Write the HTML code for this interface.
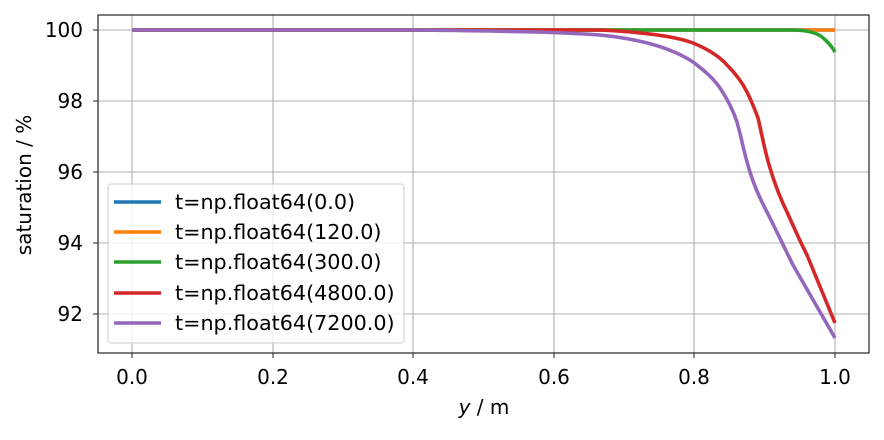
<!DOCTYPE html><html><head><style>body{margin:0;background:#fff}</style></head><body>
<svg width="884" height="435" xmlns="http://www.w3.org/2000/svg" font-family="DejaVu Sans, Liberation Sans, sans-serif">
<rect width="884" height="435" fill="#fff"/>
<g stroke="#b0b0b0" stroke-width="1.1">
<line x1="132" y1="15" x2="132" y2="353"/><line x1="273" y1="15" x2="273" y2="353"/><line x1="413" y1="15" x2="413" y2="353"/><line x1="554" y1="15" x2="554" y2="353"/><line x1="694" y1="15" x2="694" y2="353"/><line x1="835" y1="15" x2="835" y2="353"/>
<line x1="98" y1="30" x2="869" y2="30"/><line x1="98" y1="101" x2="869" y2="101"/><line x1="98" y1="172" x2="869" y2="172"/><line x1="98" y1="243" x2="869" y2="243"/><line x1="98" y1="314" x2="869" y2="314"/>
</g>
<g fill="none" stroke-width="3.6" stroke-linejoin="round">
<path d="M132 30H835" stroke="#1f77b4"/>
<path d="M132 30H835" stroke="#ff7f0e"/>
<path d="M132 30H790C808 30 817 33 822 37C827 41 831 45 835 52" stroke="#2ca02c"/>
<path d="M132 30L483 30C540 30 580 30 600 30C640 32 675 36 693 43C710 50 720 57 727 65C737 75 743 84 747 92C752 102 755 110 758 118C762 135 765 152 770 168C776 188 781 200 787 212C795 230 800 241 807 255L835 323" stroke="#d62728"/>
<path d="M132 30L413 30C500 31 560 32 600 35C640 39 672 48 693 62C705 71 713 78 720 88C728 100 733 110 737 122C742 140 745 157 750 172C755 188 760 199 767 212C777 232 785 249 793 265L835 338" stroke="#9467bd"/>
</g>
<rect x="98" y="15" width="771" height="338" fill="none" stroke="#222" stroke-width="1.2"/>
<g stroke="#222"><line x1="132" y1="353" x2="132" y2="358"/><line x1="273" y1="353" x2="273" y2="358"/><line x1="413" y1="353" x2="413" y2="358"/><line x1="554" y1="353" x2="554" y2="358"/><line x1="694" y1="353" x2="694" y2="358"/><line x1="835" y1="353" x2="835" y2="358"/>
<line x1="93" y1="30" x2="98" y2="30"/><line x1="93" y1="101" x2="98" y2="101"/><line x1="93" y1="172" x2="98" y2="172"/><line x1="93" y1="243" x2="98" y2="243"/><line x1="93" y1="314" x2="98" y2="314"/></g>
<g font-size="20" text-anchor="middle"><text x="132" y="384">0.0</text><text x="273" y="384">0.2</text><text x="413" y="384">0.4</text><text x="554" y="384">0.6</text><text x="694" y="384">0.8</text><text x="835" y="384">1.0</text></g>
<g font-size="20" text-anchor="end"><text x="83" y="37">100</text><text x="83" y="108">98</text><text x="83" y="179">96</text><text x="83" y="250">94</text><text x="83" y="321">92</text></g>
<text x="484" y="414" font-size="20" text-anchor="middle"><tspan font-style="italic">y</tspan> / m</text>
<text transform="translate(31,185) rotate(-90)" font-size="20" text-anchor="middle">saturation / %</text>
<rect x="108" y="184" width="296" height="159" rx="3" fill="#fff" fill-opacity="0.8" stroke="#ccc"/>
<g stroke-width="3.6"><line x1="114" y1="202" x2="161" y2="202" stroke="#1f77b4"/><line x1="114" y1="232" x2="161" y2="232" stroke="#ff7f0e"/><line x1="114" y1="262" x2="161" y2="262" stroke="#2ca02c"/><line x1="114" y1="293" x2="161" y2="293" stroke="#d62728"/><line x1="114" y1="323" x2="161" y2="323" stroke="#9467bd"/></g>
<g font-size="20.7"><text x="175" y="209">t=np.float64(0.0)</text><text x="175" y="239">t=np.float64(120.0)</text><text x="175" y="269">t=np.float64(300.0)</text><text x="175" y="300">t=np.float64(4800.0)</text><text x="175" y="330">t=np.float64(7200.0)</text></g>
</svg></body></html>
